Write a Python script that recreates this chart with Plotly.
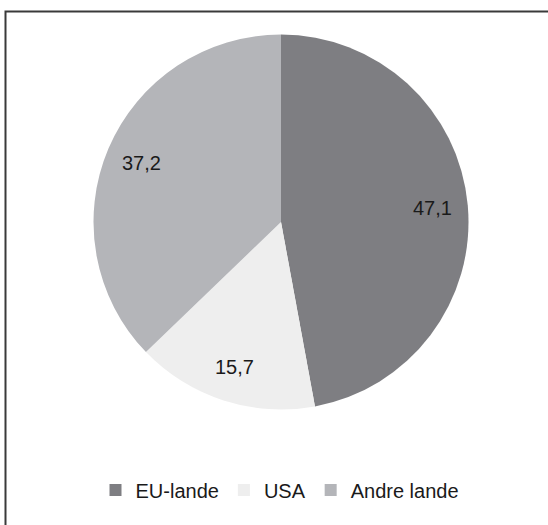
import math
import plotly.graph_objects as go

categories = ["EU-lande", "USA", "Andre lande"]
values = [47.1, 15.7, 37.2]
colors = ["#7e7e82", "#eeeeee", "#b4b5b9"]

W, H = 548, 525
FONT = "Liberation Sans, Arial, sans-serif"

# pie placement (pixels)
cx, cy, r = 281, 222, 187.5

fig = go.Figure(go.Pie(
    labels=categories,
    values=values,
    sort=False,
    direction="clockwise",
    rotation=0,
    marker=dict(colors=colors, line=dict(width=0)),
    textinfo="none",
    domain=dict(x=[(cx - r) / W, (cx + r) / W], y=[1 - (cy + r) / H, 1 - (cy - r) / H]),
    hoverinfo="skip",
))

# data labels placed along each slice's bisector
total = sum(values)
annotations = []
acc = 0.0
for v in values:
    mid = (acc + v / 2) / total * 2 * math.pi
    acc += v
    rr = 0.81 * r
    px = cx + rr * math.sin(mid)
    py = cy - rr * math.cos(mid)
    annotations.append(dict(
        x=px / W, y=1 - py / H, xref="paper", yref="paper",
        text=f"{v:.1f}".replace(".", ","), showarrow=False,
        font=dict(family=FONT, size=20, color="#1a1a1a"),
        xanchor="center", yanchor="middle",
    ))

fig.update_layout(
    width=W, height=H,
    margin=dict(l=0, r=0, t=0, b=0),
    paper_bgcolor="white",
    separators=",.",
    font=dict(family=FONT, size=20, color="#1a1a1a"),
    showlegend=True,
    legend=dict(
        orientation="h",
        x=280 / W, xanchor="center",
        y=1 - 490 / H, yanchor="middle",
        font=dict(family=FONT, size=20, color="#1a1a1a"),
        itemwidth=30,
        traceorder="normal",
    ),
    annotations=annotations,
    shapes=[dict(
        type="rect", xref="paper", yref="paper",
        x0=5.5 / W, x1=1.1, y0=-0.1, y1=1 - 11.5 / H,
        line=dict(color="#3a3a3a", width=2), fillcolor="rgba(0,0,0,0)",
    )],
)

fig.write_html(
    "out.html",
    config={"displayModeBar": False},
    post_script="document.body.style.margin='0';document.body.style.overflow='hidden';",
)
